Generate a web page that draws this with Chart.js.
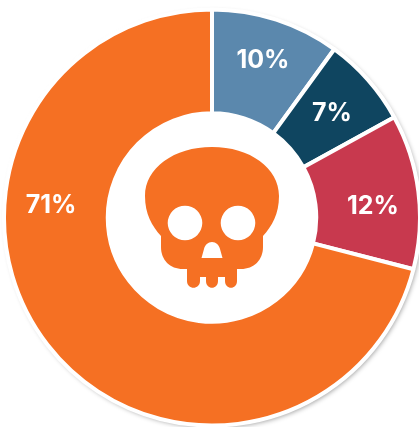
<!DOCTYPE html>
<html>
<head>
<meta charset="utf-8">
<style>
  html, body { margin: 0; padding: 0; background: #fff; }
  canvas { display: block; }
</style>
<script src="https://cdn.jsdelivr.net/npm/chart.js@4"></script>
</head>
<body>
<canvas id="chart" width="419" height="427"></canvas>
<script>
const categories = ['A', 'B', 'C', 'D'];
const values = [10, 7, 12, 71];
const sliceColors = ['#5b88ad', '#0f4560', '#c8394e', '#f57023'];

// label spot per slice: degrees clockwise from 12 o'clock, distance from center
const labelSpots = [[17.7, 167.5], [48.4, 160.4], [85.2, 161.6], [275, 161.6]];

const skullPath = new Path2D(
    'M0 -71 C-38 -71 -67 -50 -67 -22 C-67 -4 -60 8 -51 18 ' +
    'L-51 29 C-51 42 -42 51 -29 51 L-25 51 L-25 63 C-25 72 -12 72 -12 63 L-12 59 L-6 59 ' +
    'L-6 63 C-6 72 6 72 6 63 L6 59 L13 59 L13 63 C13 72 25 72 25 63 L25 51 ' +
    'L29 51 C42 51 51 42 51 29 L51 18 C60 8 67 -4 67 -22 C67 -50 38 -71 0 -71 Z'
);
const nosePath = new Path2D('M0 24 C4 24 7 27 8 31 L10.5 40 L-10.5 40 L-8 31 C-7 27 -4 24 0 24 Z');

const backdrop = {
    id: 'backdrop',
    beforeDatasetsDraw(chart) {
        const arc = chart.getDatasetMeta(0).data[0];
        const ctx = chart.ctx;
        ctx.save();
        ctx.shadowColor = 'rgba(0,0,0,0.4)';
        ctx.shadowBlur = 5;
        ctx.shadowOffsetX = 2;
        ctx.shadowOffsetY = 2;
        ctx.fillStyle = '#fff';
        ctx.beginPath();
        ctx.arc(arc.x, arc.y, arc.outerRadius, 0, Math.PI * 2);
        ctx.fill();
        ctx.restore();
    }
};

const overlay = {
    id: 'overlay',
    afterDatasetsDraw(chart) {
        const arc = chart.getDatasetMeta(0).data[0];
        const ctx = chart.ctx;
        ctx.save();
        ctx.fillStyle = '#fff';
        ctx.font = 'bold 25px Inter, "Open Sans", sans-serif';
        ctx.textAlign = 'center';
        ctx.textBaseline = 'middle';
        values.forEach((v, i) => {
            const a = labelSpots[i][0] * Math.PI / 180;
            const r = labelSpots[i][1];
            ctx.fillText(v + '%', arc.x + r * Math.sin(a), arc.y - r * Math.cos(a) + 2.5);
        });

        // skull in the hole
        ctx.translate(arc.x, arc.y + 0.5);
        ctx.fillStyle = sliceColors[3];
        ctx.fill(skullPath);
        ctx.fillStyle = '#fff';
        ctx.fill(nosePath);
        ctx.beginPath();
        ctx.arc(-27, 5, 17.3, 0, Math.PI * 2);
        ctx.arc(26, 5, 17.3, 0, Math.PI * 2);
        ctx.fill();
        ctx.restore();
    }
};

const canvas = document.getElementById('chart');
new Chart(canvas, {
    type: 'doughnut',
    data: {
        labels: categories,
        datasets: [{
            data: values,
            backgroundColor: sliceColors,
            borderColor: '#fff',
            borderWidth: 4,
            borderAlign: 'center',
        }]
    },
    options: {
        responsive: false,
        animation: false,
        radius: 208,
        cutout: 102,
        layout: { padding: { left: 6, right: 1, top: 12, bottom: 4 } },
        plugins: {
            legend: { display: false },
            tooltip: { enabled: false },
        },
    },
    plugins: [backdrop, overlay],
});
</script>
</body>
</html>
